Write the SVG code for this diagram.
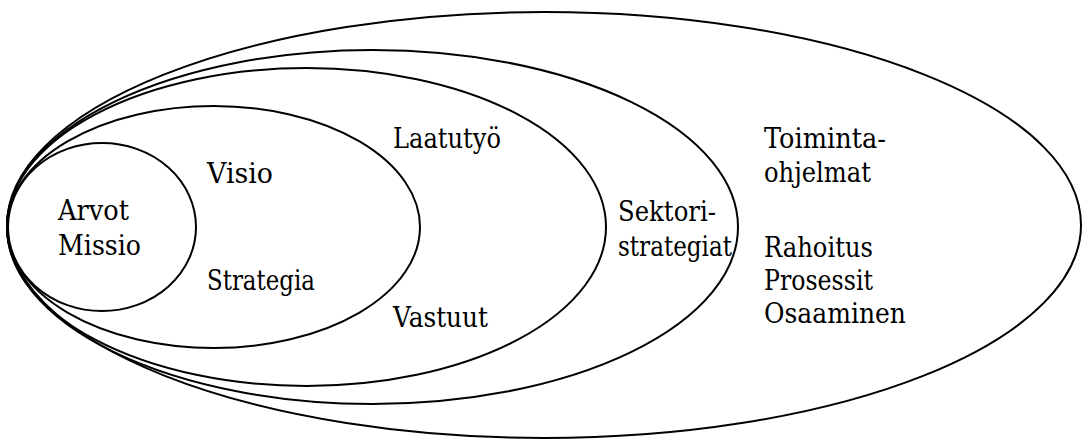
<svg xmlns="http://www.w3.org/2000/svg" width="1083" height="439" viewBox="0 0 1083 439">
<style>
.e{fill:none;stroke:#000;stroke-width:2}
.t{font-family:'DejaVu Serif',serif;font-size:27px;fill:#000}
</style>
<rect width="1083" height="439" fill="#fff"/>
<g id="e5"><ellipse class="e" cx="544" cy="225" rx="537" ry="213"/>
<text class="t" x="764" y="148" textLength="122" lengthAdjust="spacingAndGlyphs">Toiminta-</text>
<text class="t" x="764" y="182" textLength="107" lengthAdjust="spacingAndGlyphs">ohjelmat</text>
<text class="t" x="764" y="257" textLength="109" lengthAdjust="spacingAndGlyphs">Rahoitus</text>
<text class="t" x="764" y="290" textLength="109" lengthAdjust="spacingAndGlyphs">Prosessit</text>
<text class="t" x="764" y="323" textLength="142" lengthAdjust="spacingAndGlyphs">Osaaminen</text></g>
<g id="e4"><ellipse class="e" cx="372.5" cy="227" rx="365.5" ry="177"/>
<text class="t" x="618" y="221" textLength="98" lengthAdjust="spacingAndGlyphs">Sektori-</text>
<text class="t" x="618" y="256" textLength="114" lengthAdjust="spacingAndGlyphs">strategiat</text></g>
<g id="e3"><ellipse class="e" cx="306.5" cy="227" rx="299.5" ry="159"/>
<text class="t" x="393" y="148" textLength="108" lengthAdjust="spacingAndGlyphs">Laatutyö</text>
<text class="t" x="393" y="327" textLength="95" lengthAdjust="spacingAndGlyphs">Vastuut</text></g>
<g id="e2"><ellipse class="e" cx="213.5" cy="227" rx="206.5" ry="121"/>
<text class="t" x="207" y="183" textLength="66" lengthAdjust="spacingAndGlyphs">Visio</text>
<text class="t" x="207" y="290" textLength="108" lengthAdjust="spacingAndGlyphs">Strategia</text></g>
<g id="e1"><ellipse class="e" cx="102" cy="227" rx="94" ry="84"/>
<text class="t" x="58" y="220" textLength="71" lengthAdjust="spacingAndGlyphs">Arvot</text>
<text class="t" x="58" y="255" textLength="83" lengthAdjust="spacingAndGlyphs">Missio</text></g>
<g id="connectors"/>
</svg>
